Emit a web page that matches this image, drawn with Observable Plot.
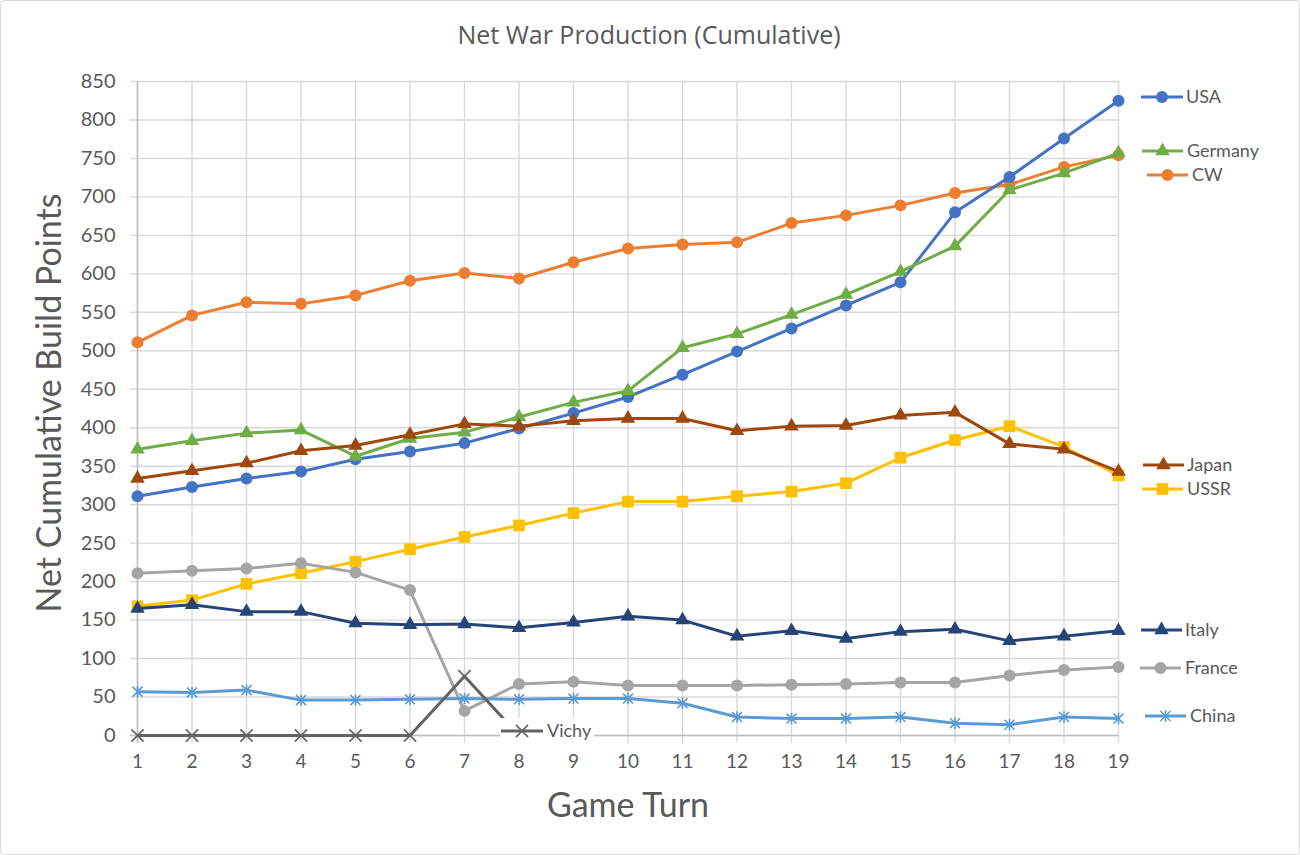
<!DOCTYPE html>
<html>
<head>
<meta charset="utf-8">
<script src="https://cdn.jsdelivr.net/npm/d3@7"></script>
<script src="https://cdn.jsdelivr.net/npm/@observablehq/plot@0.6"></script>
<style>
  body { margin: 0; background: #fff; }
  #chart { width: 1300px; height: 855px; }
</style>
</head>
<body>
<div id="chart"></div>
<script>
// ---- Data ----
const turns = [1,2,3,4,5,6,7,8,9,10,11,12,13,14,15,16,17,18,19];
const yTicks = [0,50,100,150,200,250,300,350,400,450,500,550,600,650,700,750,800,850];
const usa     = [311,323,334,343,359,369,380,399,419,440,469,499,529,559,589,680,726,776,825];
const cw      = [511,546,563,561,572,591,601,594,615,633,638,641,666,676,689,705,716,739,754];
const germany = [372,383,393,397,363,386,394,414,433,448,504,522,547,573,603,636,709,731,757];
const japan   = [334,344,354,370,377,391,405,402,409,412,412,396,402,403,416,420,379,372,343];
const ussr    = [168,176,197,211,226,242,258,273,289,304,304,311,317,328,361,384,402,375,338];
const italy   = [165,170,161,161,146,144,145,140,147,155,150,129,136,126,135,138,123,129,136];
const france  = [211,214,217,224,212,189,32,67,70,65,65,65,66,67,69,69,78,85,89];
const china   = [57,56,59,46,46,47,48,47,48,48,42,24,22,22,24,16,14,24,22];
const vichy   = [0,0,0,0,0,0,77,0];

// ---- Styles ----
const excelStar = {
  draw(ctx, size) {
    const r = Math.sqrt(size) * 0.56;
    ctx.moveTo(-r, -r); ctx.lineTo(r, r);
    ctx.moveTo(-r, r); ctx.lineTo(r, -r);
    ctx.moveTo(0, -r * 1.15); ctx.lineTo(0, r * 1.15);
  }
};
const seriesStyle = {
  USA:     {values: usa,     color: "#4472C4", symbol: "circle",   r: 6,   filled: true},
  CW:      {values: cw,      color: "#ED7D31", symbol: "circle",   r: 6,   filled: true},
  Germany: {values: germany, color: "#70AD47", symbol: "triangle", r: 5.4, filled: true},
  Japan:   {values: japan,   color: "#9E480E", symbol: "triangle", r: 5.4, filled: true},
  USSR:    {values: ussr,    color: "#FFC000", symbol: "square",   r: 6.6, filled: true},
  Italy:   {values: italy,   color: "#264478", symbol: "triangle", r: 5.4, filled: true},
  France:  {values: france,  color: "#A5A5A5", symbol: "circle",   r: 6,   filled: true},
  China:   {values: china,   color: "#5B9BD5", symbol: excelStar,  r: 5,   filled: false},
  Vichy:   {values: vichy,   color: "#636363", symbol: "times",    r: 5.6, filled: false}
};
const drawOrder = ["USSR","France","China","CW","USA","Germany","Japan","Italy","Vichy"];

const rows = drawOrder.flatMap(name =>
  seriesStyle[name].values.map((v, i) => ({series: name, turn: turns[i], value: v})));

const seriesMarks = drawOrder.flatMap(name => {
  const s = seriesStyle[name];
  const data = rows.filter(d => d.series === name);
  return [
    Plot.line(data, {x: "turn", y: "value", stroke: s.color, strokeWidth: 3, strokeLinejoin: "round", strokeLinecap: "round"}),
    Plot.dot(data, s.filled
      ? {x: "turn", y: "value", symbol: () => s.symbol, r: s.r, fill: s.color, stroke: "none"}
      : {x: "turn", y: "value", symbol: () => s.symbol, r: s.r, fill: "none", stroke: s.color, strokeWidth: 1.6})
  ];
});

const textColor = "#595959";
const font = "Lato, 'Noto Sans', sans-serif";

const plot = Plot.plot({
  width: 1300,
  height: 855,
  marginLeft: 137,
  marginRight: 182,
  marginTop: 81,
  marginBottom: 120,
  style: {fontFamily: font, background: "white", fontSize: "19px", color: textColor},
  x: {domain: [1, 19]},
  y: {domain: [0, 850]},
  symbol: {type: "identity"},
  marks: [
    Plot.ruleY(yTicks, {stroke: "#d9d9d9", strokeWidth: 1.4, insetLeft: -7}),
    Plot.ruleX(turns, {stroke: "#d9d9d9", strokeWidth: 1.4, insetBottom: -8}),
    Plot.ruleX([1], {stroke: "#bfbfbf", strokeWidth: 1.6, insetBottom: -8}),
    Plot.ruleY([0], {stroke: "#bfbfbf", strokeWidth: 1.6, insetLeft: -7}),
    Plot.axisY({ticks: yTicks, tickSize: 0, tickPadding: 22, fontSize: 20, fill: textColor, label: null}),
    Plot.axisX({ticks: turns, tickSize: 0, tickPadding: 19, fontSize: 19, fill: textColor, label: null, tickFormat: d => String(d)}),
    ...seriesMarks
  ]
});

document.getElementById("chart").appendChild(plot);

// ---- Titles, legend, border (layout) ----
const svg = d3.select(plot);

svg.append("text")
  .attr("x", 649).attr("y", 44)
  .attr("text-anchor", "middle")
  .attr("fill", textColor)
  .style("font-family", "'Open Sans', Lato, sans-serif")
  .style("font-size", "25px")
  .text("Net War Production (Cumulative)");

svg.append("text")
  .attr("transform", "translate(61,403) rotate(-90)")
  .attr("text-anchor", "middle")
  .attr("fill", textColor)
  .style("font-family", font)
  .style("font-size", "34px")
  .text("Net Cumulative Build Points");

svg.append("text")
  .attr("x", 628).attr("y", 817)
  .attr("text-anchor", "middle")
  .attr("fill", textColor)
  .style("font-family", font)
  .style("font-size", "34px")
  .text("Game Turn");

const legendLayout = [
  {name: "USA",     x1: 1141, x2: 1183, y: 97,  tx: 1186},
  {name: "Germany", x1: 1142, x2: 1183, y: 151, tx: 1187},
  {name: "CW",      x1: 1147, x2: 1188, y: 175, tx: 1192},
  {name: "Japan",   x1: 1143, x2: 1184, y: 465, tx: 1187},
  {name: "USSR",    x1: 1142, x2: 1183, y: 489, tx: 1187},
  {name: "Italy",   x1: 1141, x2: 1182, y: 630, tx: 1185},
  {name: "France",  x1: 1140, x2: 1181, y: 668, tx: 1185},
  {name: "China",   x1: 1145, x2: 1186, y: 716, tx: 1190},
  {name: "Vichy",   x1: 501,  x2: 543,  y: 731, tx: 547, box: [500, 718, 94, 27]}
];

const symbolType = s => {
  if (s === "circle") return d3.symbolCircle;
  if (s === "triangle") return d3.symbolTriangle;
  if (s === "square") return d3.symbolSquare;
  if (s === "times") return d3.symbolTimes;
  return s;
};

const lg = svg.append("g");
for (const item of legendLayout) {
  const s = seriesStyle[item.name];
  const g = lg.append("g");
  if (item.box) {
    g.append("rect").attr("x", item.box[0]).attr("y", item.box[1])
      .attr("width", item.box[2]).attr("height", item.box[3]).attr("fill", "white");
  }
  g.append("line")
    .attr("x1", item.x1).attr("x2", item.x2).attr("y1", item.y).attr("y2", item.y)
    .attr("stroke", s.color).attr("stroke-width", 3);
  const path = d3.symbol().type(symbolType(s.symbol)).size(Math.PI * s.r * s.r)();
  g.append("path")
    .attr("d", path)
    .attr("transform", `translate(${(item.x1 + item.x2) / 2},${item.y})`)
    .attr("fill", s.filled ? s.color : "none")
    .attr("stroke", s.filled ? "none" : s.color)
    .attr("stroke-width", 1.6);
  g.append("text")
    .attr("x", item.tx).attr("y", item.y).attr("dy", "0.35em")
    .attr("text-anchor", "start")
    .attr("fill", textColor)
    .style("font-family", font)
    .style("font-size", "18px")
    .text(item.name);
}

svg.append("rect")
  .attr("x", 0.5).attr("y", 0.5).attr("width", 1299).attr("height", 854)
  .attr("rx", 3)
  .attr("fill", "none").attr("stroke", "#d9d9d9").attr("stroke-width", 1);
</script>
</body>
</html>
